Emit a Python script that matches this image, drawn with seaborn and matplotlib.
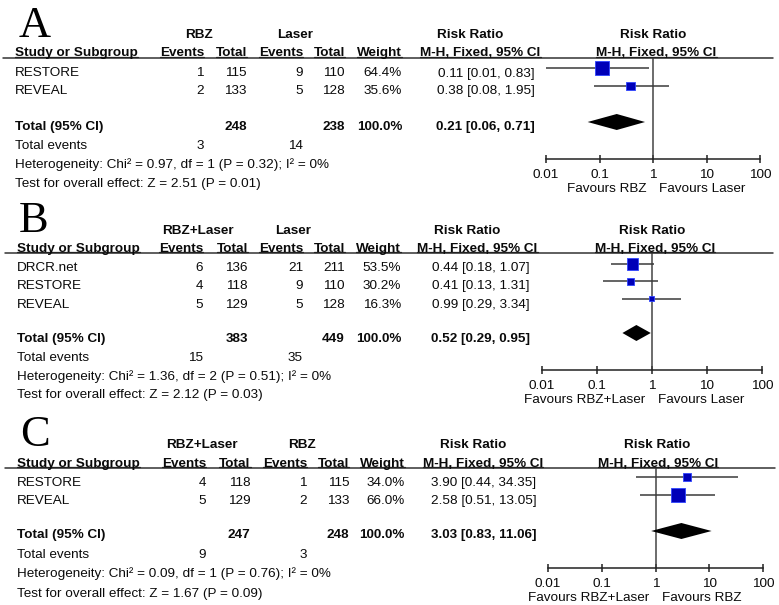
import numpy as np
import pandas as pd
import matplotlib
matplotlib.use("Agg")
import matplotlib.pyplot as plt
import seaborn as sns
from matplotlib.lines import Line2D
from matplotlib.ticker import NullLocator, FixedLocator, FixedFormatter

sns.set_theme(style="white")
plt.rcParams['font.family'] = ['Liberation Sans', 'DejaVu Sans']

# ---------------- data ----------------
A_group1, A_group2 = "RBZ", "Laser"
A_studies = ["RESTORE", "REVEAL"]
A_ev1 = [1, 2]
A_n1 = [115, 133]
A_ev2 = [9, 5]
A_n2 = [110, 128]
A_weight = [64.4, 35.6]
A_rr = [0.11, 0.38]
A_lo = [0.01, 0.08]
A_hi = [0.83, 1.95]
A_total = [248, 238, 100.0, 0.21, 0.06, 0.71]
A_tev = [3, 14]
A_het = [0.97, 1, 0.32, 0]
A_z = [2.51, 0.01]
A_fav = ["Favours RBZ", "Favours Laser"]

B_group1, B_group2 = "RBZ+Laser", "Laser"
B_studies = ["DRCR.net", "RESTORE", "REVEAL"]
B_ev1 = [6, 4, 5]
B_n1 = [136, 118, 129]
B_ev2 = [21, 9, 5]
B_n2 = [211, 110, 128]
B_weight = [53.5, 30.2, 16.3]
B_rr = [0.44, 0.41, 0.99]
B_lo = [0.18, 0.13, 0.29]
B_hi = [1.07, 1.31, 3.34]
B_total = [383, 449, 100.0, 0.52, 0.29, 0.95]
B_tev = [15, 35]
B_het = [1.36, 2, 0.51, 0]
B_z = [2.12, 0.03]
B_fav = ["Favours RBZ+Laser", "Favours Laser"]

C_group1, C_group2 = "RBZ+Laser", "RBZ"
C_studies = ["RESTORE", "REVEAL"]
C_ev1 = [4, 5]
C_n1 = [118, 129]
C_ev2 = [1, 2]
C_n2 = [115, 133]
C_weight = [34.0, 66.0]
C_rr = [3.90, 2.58]
C_lo = [0.44, 0.51]
C_hi = [34.35, 13.05]
C_total = [247, 248, 100.0, 3.03, 0.83, 11.06]
C_tev = [9, 3]
C_het = [0.09, 1, 0.76, 0]
C_z = [1.67, 0.09]
C_fav = ["Favours RBZ+Laser", "Favours RBZ"]

tick_vals = [0.01, 0.1, 1, 10, 100]
tick_labels = ["0.01", "0.1", "1", "10", "100"]

panels = [
    dict(letter="A", g1=A_group1, g2=A_group2, studies=A_studies, ev1=A_ev1, n1=A_n1,
         ev2=A_ev2, n2=A_n2, w=A_weight, rr=A_rr, lo=A_lo, hi=A_hi, tot=A_total,
         tev=A_tev, het=A_het, z=A_z, fav=A_fav),
    dict(letter="B", g1=B_group1, g2=B_group2, studies=B_studies, ev1=B_ev1, n1=B_n1,
         ev2=B_ev2, n2=B_n2, w=B_weight, rr=B_rr, lo=B_lo, hi=B_hi, tot=B_total,
         tev=B_tev, het=B_het, z=B_z, fav=B_fav),
    dict(letter="C", g1=C_group1, g2=C_group2, studies=C_studies, ev1=C_ev1, n1=C_n1,
         ev2=C_ev2, n2=C_n2, w=C_weight, rr=C_rr, lo=C_lo, hi=C_hi, tot=C_total,
         tev=C_tev, het=C_het, z=C_z, fav=C_fav),
]

# ---------------- layout (pixels) ----------------
layouts = [
    dict(lx=19, lbase=37, h1=38, h2=56, line=58, lx0=3, lx1=773,
         r0=76.5, dr=18, tb=130, teb=149, hb=168, zb=187,
         cs=15, ce1=204, ct1=247, ce2=303, ct2=345, cw=402, crr=535,
         cg1=198.5, cg2=295, crh=470, cmh=480.5, crh2=653.5, cmh2=656.5,
         fx0=546, fx1=760, ftop=58, fbot=159, fr0=68, fdr=18),
    dict(lx=19, lbase=232, h1=234, h2=252, line=253.3, lx0=5, lx1=773,
         r0=271, dr=18.3, tb=342, teb=361, hb=380, zb=398,
         cs=17, ce1=203, ct1=248, ce2=303, ct2=345, cw=401, crr=530,
         cg1=198, cg2=293, crh=467, cmh=477.5, crh2=652.5, cmh2=655,
         fx0=542, fx1=762, ftop=253.3, fbot=370, fr0=264, fdr=17.25),
    dict(lx=20, lbase=446, h1=448, h2=466.7, line=468.3, lx0=5, lx1=775,
         r0=486, dr=18.3, tb=538.3, teb=557.7, hb=576.7, zb=596.7,
         cs=17, ce1=206, ct1=250.7, ce2=307, ct2=349.3, cw=405, crr=536.5,
         cg1=202, cg2=301.7, crh=473, cmh=483, crh2=657.5, cmh2=658,
         fx0=548, fx1=763, ftop=468.3, fbot=568, fr0=477, fdr=18),
]

W, H = 779, 605
fig = plt.figure(figsize=(W / 100, H / 100), dpi=100)
FS = 9.7
TXT = "#0a0a0a"


def fx(x):
    return x / W


def fy(y):
    return 1 - y / H


def put(x, y, s, ha="left", bold=False, size=FS, **kw):
    return fig.text(fx(x), fy(y), s, ha=ha, va="baseline", fontsize=size,
                    fontweight="bold" if bold else "normal", color=TXT, **kw)


underlined = []

for p, L in zip(panels, layouts):
    # panel letter
    fig.text(fx(L["lx"]), fy(L["lbase"]), p["letter"], ha="left", va="baseline",
             fontsize=32, family=["Liberation Serif", "DejaVu Serif"], color="black")
    # headers
    put(L["cg1"], L["h1"], p["g1"], ha="center", bold=True)
    put(L["cg2"], L["h1"], p["g2"], ha="center", bold=True)
    put(L["crh"], L["h1"], "Risk Ratio", ha="center", bold=True)
    put(L["crh2"], L["h1"], "Risk Ratio", ha="center", bold=True)
    hdr = [
        put(L["cs"], L["h2"], "Study or Subgroup", bold=True),
        put(L["ce1"], L["h2"], "Events", ha="right", bold=True),
        put(L["ct1"], L["h2"], "Total", ha="right", bold=True),
        put(L["ce2"], L["h2"], "Events", ha="right", bold=True),
        put(L["ct2"], L["h2"], "Total", ha="right", bold=True),
        put(L["cw"], L["h2"], "Weight", ha="right", bold=True),
        put(L["cmh"], L["h2"], "M-H, Fixed, 95% CI", ha="center", bold=True),
        put(L["cmh2"], L["h2"], "M-H, Fixed, 95% CI", ha="center", bold=True),
    ]
    underlined += [(t, L["line"]) for t in hdr]
    fig.add_artist(Line2D([fx(L["lx0"]), fx(L["lx1"])], [fy(L["line"])] * 2,
                          transform=fig.transFigure, color="#333333", lw=1.1))

    # study rows
    for i, s in enumerate(p["studies"]):
        yb = L["r0"] + i * L["dr"]
        put(L["cs"], yb, s)
        put(L["ce1"], yb, str(p["ev1"][i]), ha="right")
        put(L["ct1"], yb, str(p["n1"][i]), ha="right")
        put(L["ce2"], yb, str(p["ev2"][i]), ha="right")
        put(L["ct2"], yb, str(p["n2"][i]), ha="right")
        put(L["cw"], yb, f"{p['w'][i]:.1f}%", ha="right")
        put(L["crr"], yb, f"{p['rr'][i]:.2f} [{p['lo'][i]:.2f}, {p['hi'][i]:.2f}]", ha="right")

    t = p["tot"]
    put(L["cs"], L["tb"], "Total (95% CI)", bold=True)
    put(L["ct1"], L["tb"], str(t[0]), ha="right", bold=True)
    put(L["ct2"], L["tb"], str(t[1]), ha="right", bold=True)
    put(L["cw"], L["tb"], f"{t[2]:.1f}%", ha="right", bold=True)
    put(L["crr"], L["tb"], f"{t[3]:.2f} [{t[4]:.2f}, {t[5]:.2f}]", ha="right", bold=True)

    put(L["cs"], L["teb"], "Total events")
    put(L["ce1"], L["teb"], str(p["tev"][0]), ha="right")
    put(L["ce2"], L["teb"], str(p["tev"][1]), ha="right")
    hc = p["het"]
    put(L["cs"], L["hb"], f"Heterogeneity: Chi² = {hc[0]:.2f}, df = {hc[1]} (P = {hc[2]:.2f}); I² = {hc[3]}%")
    put(L["cs"], L["zb"], f"Test for overall effect: Z = {p['z'][0]:.2f} (P = {p['z'][1]:.2f})")

    # forest axes
    ax = fig.add_axes([fx(L["fx0"]), fy(L["fbot"]), (L["fx1"] - L["fx0"]) / W,
                       (L["fbot"] - L["ftop"]) / H])
    ax.patch.set_alpha(0)
    n = len(p["studies"])
    rows = np.arange(n)
    trow = n + 1
    ax.set_xscale("log")
    ax.set_xlim(0.01, 100)
    ax.set_ylim((L["fbot"] - L["fr0"]) / L["fdr"], (L["ftop"] - L["fr0"]) / L["fdr"])

    ax.axvline(1, color="#444444", lw=1.1, zorder=1)
    ax.hlines(rows, p["lo"], p["hi"], color="#3a3a3a", lw=1.1, zorder=2)
    df = pd.DataFrame({"rr": p["rr"], "row": rows, "w": p["w"]})
    side_px = 1.5 + 0.19 * df["w"].to_numpy()
    sns.scatterplot(data=df, x="rr", y="row", marker="s", s=(side_px * 0.72) ** 2,
                    color="#0000b8", edgecolor="#2f45ff", linewidth=0.6,
                    legend=False, ax=ax, zorder=3)
    hh = 8.0 / L["fdr"]
    ax.fill([t[4], t[3], t[5], t[3]], [trow, trow - hh, trow, trow + hh],
            color="black", lw=0, zorder=3)

    for side in ["left", "top", "right"]:
        ax.spines[side].set_visible(False)
    ax.spines["bottom"].set_color("#222222")
    ax.spines["bottom"].set_linewidth(1.1)
    ax.set_yticks([])
    ax.xaxis.set_major_locator(FixedLocator(tick_vals))
    ax.xaxis.set_major_formatter(FixedFormatter(tick_labels))
    ax.xaxis.set_minor_locator(NullLocator())
    ax.tick_params(axis="x", direction="inout", length=5.5, width=1.1, pad=4.2,
                   labelsize=FS, colors="#222222", labelcolor=TXT, bottom=True)
    ax.set_xlabel("")
    ax.set_ylabel("")
    off = 33 * 0.72
    ax.annotate(p["fav"][0], xy=(1, 0), xycoords=("data", "axes fraction"),
                xytext=(-4.5, -off), textcoords="offset points", ha="right",
                va="baseline", fontsize=FS, color=TXT, annotation_clip=False)
    ax.annotate(p["fav"][1], xy=(1, 0), xycoords=("data", "axes fraction"),
                xytext=(4.5, -off), textcoords="offset points", ha="left",
                va="baseline", fontsize=FS, color=TXT, annotation_clip=False)

# underline header texts
fig.canvas.draw()
r = fig.canvas.get_renderer()
for t, ly in underlined:
    bb = t.get_window_extent(r)
    yl = fy(ly - 1.3)
    fig.add_artist(Line2D([bb.x0 / W, bb.x1 / W], [yl, yl], transform=fig.transFigure,
                          color="#222222", lw=0.9))

fig.savefig("out.png", dpi=100)
